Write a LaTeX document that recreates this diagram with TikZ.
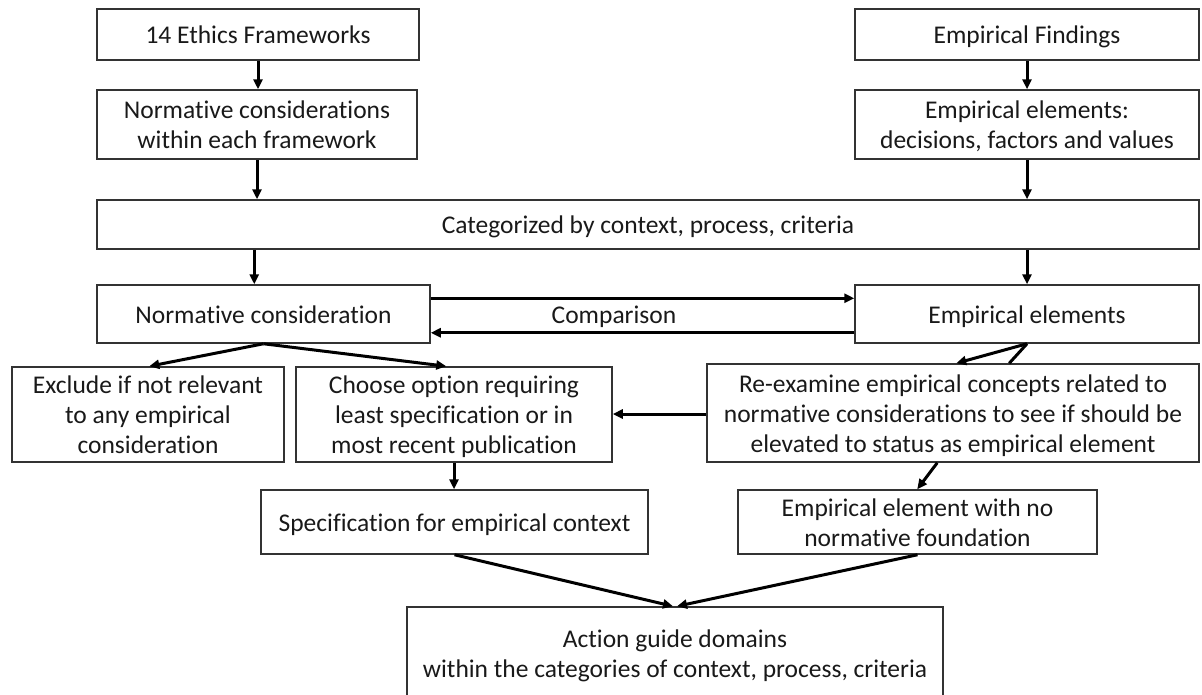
\documentclass[tikz,border=0pt]{standalone}
\usepackage{fontspec}
\setmainfont{Carlito}[Ligatures=NoCommon]
\usetikzlibrary{arrows.meta,calc}
\newcommand\lnstrut{\rule[-6pt]{0pt}{30pt}}
\begin{document}
\begin{tikzpicture}[x=1pt,y=-1pt,
  box/.style={draw=black!80, line width=1.5pt, align=center, inner sep=0pt,
    font=\fontsize{25.5}{30}\selectfont, text=black!90},
  lbl/.style={font=\fontsize{25.5}{30}\selectfont, text=black!90, inner sep=0pt},
  arr/.style={-{Triangle[length=10pt,width=9pt]}, line width=3pt},
  ln/.style={line width=3pt},
]
\useasboundingbox (0,0) rectangle (1202,694);
\clip (0,0) rectangle (1202,694);

\node[box, minimum width=322pt, minimum height=51pt] (fw) at (258,34.5) {\lnstrut 14 Ethics Frameworks};
\node[box, minimum width=320pt, minimum height=69pt] (nc) at (257,124.5) {\lnstrut Normative considerations\\\lnstrut within each framework};
\node[box, minimum width=344pt, minimum height=51pt] (ef) at (1027,34.5) {\lnstrut Empirical Findings};
\node[box, minimum width=344pt, minimum height=69pt] (ee) at (1027,124.5) {\lnstrut Empirical elements:\\\lnstrut decisions, factors and values};
\node[box, minimum width=1102pt, minimum height=49pt] (cat) at (648,224.5) {\lnstrut Categorized by context, process, criteria};
\node[box, minimum width=333pt, minimum height=58pt] (norm) at (263.5,314) {\lnstrut Normative consideration};
\node[box, minimum width=344pt, minimum height=58pt] (emp) at (1027,314) {\lnstrut Empirical elements};
\node[lbl] (cmp) at (614,314) {\lnstrut Comparison};
\node[box, minimum width=272pt, minimum height=95pt] (excl) at (148,414.5) {\lnstrut Exclude if not relevant\\\lnstrut to any empirical\\\lnstrut consideration};
\node[box, minimum width=316pt, minimum height=95pt] (choose) at (454,414.5) {\lnstrut Choose option requiring\\\lnstrut least specification or in\\\lnstrut most recent publication};
\node[box, minimum width=492pt, minimum height=98pt] (reex) at (953,413) {\lnstrut Re-examine empirical concepts related to\\\lnstrut normative considerations to see if should be\\\lnstrut elevated to status as empirical element};
\node[box, minimum width=387pt, minimum height=64pt] (spec) at (454.5,522) {\lnstrut Specification for empirical context};
\node[box, minimum width=359pt, minimum height=64pt] (nofound) at (917.5,522) {\lnstrut Empirical element with no\\\lnstrut normative foundation};
\node[box, minimum width=536pt, minimum height=93pt] (action) at (675,653.5) {\lnstrut Action guide domains\\\lnstrut within the categories of context, process, criteria};

\coordinate (y414) at (0,414);

\draw[arr] (fw.south) -- (fw.south |- nc.north);
\draw[arr] (ef.south) -- (ef.south |- ee.north);
\draw[arr] (nc.south) -- (nc.south |- cat.north);
\draw[arr] (ee.south) -- (ee.south |- cat.north);
\draw[arr] ($(cat.south west)+(158,0)$) -- ($(norm.north west)+(158,0)$);
\draw[arr] (emp.north |- cat.south) -- (emp.north);
\draw[arr] ($(norm.north east)+(0,14)$) -- ($(emp.north west)+(0,14)$);
\draw[arr] ($(emp.south west)+(0,-11)$) -- ($(norm.south east)+(0,-11)$);
\draw[arr] (norm.south) -- ($(excl.north west)+(138,0)$);
\draw[arr] (norm.south) -- ($(choose.north west)+(151,0)$);
\draw[arr] (emp.south) -- ($(reex.north west)+(250,0)$);
\draw[ln] ($(reex.north west)+(303,0)$) -- (emp.south);
\draw[arr] (reex.west |- y414) -- (choose.east |- y414);
\draw[arr] ($(reex.south west)+(231,0)$) -- ($(nofound.north west)+(180,0)$);
\draw[arr] (choose.south) -- (choose.south |- spec.north);
\draw[arr] (spec.south) -- ($(action.north)+(-2,0)$);
\draw[arr] (nofound.south) -- ($(action.north)+(2,0)$);
\end{tikzpicture}
\end{document}
